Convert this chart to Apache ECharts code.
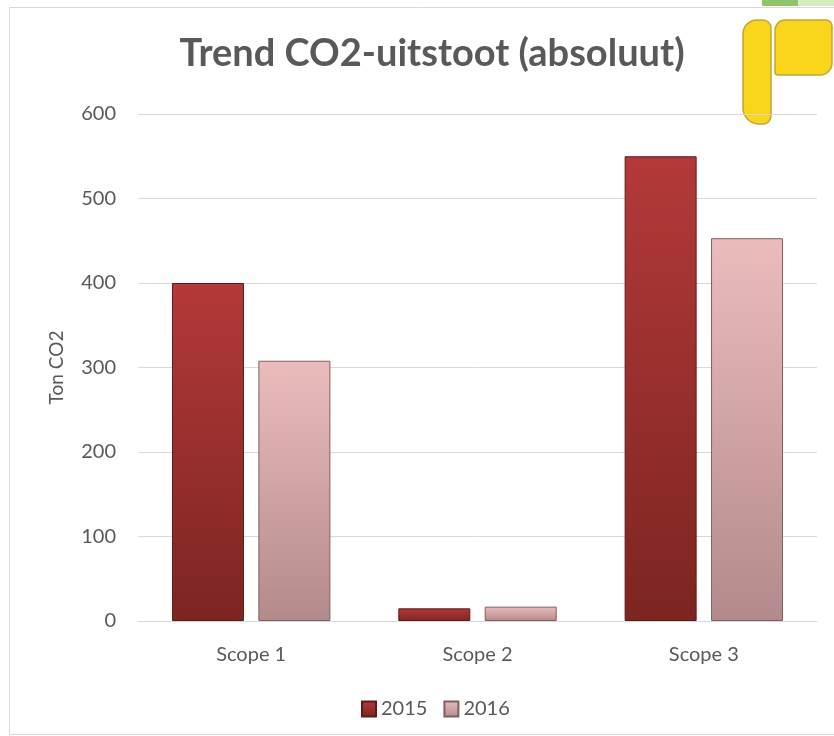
<!DOCTYPE html>
<html>
<head>
<meta charset="utf-8">
<script src="https://cdn.jsdelivr.net/npm/echarts@6/dist/echarts.min.js"></script>
<style>
  html, body { margin: 0; padding: 0; background: #fff; }
  #chart { width: 834px; height: 736px; }
</style>
</head>
<body>
<div id="chart"></div>
<script>
// data
const categories = ['Scope 1', 'Scope 2', 'Scope 3']
const values2015 = [400, 15, 550]
const values2016 = [308, 17, 453]
const seriesNames = ['2015', '2016']

const textColor = '#595959'
// Lato is close to Calibri in its shapes
const fontFamily = 'Lato, Open Sans, sans-serif'

function vGrad(top, bottom) {
  return new echarts.graphic.LinearGradient(0, 0, 0, 1, [
    { offset: 0, color: top },
    { offset: 1, color: bottom }
  ])
}

const chart = echarts.init(document.getElementById('chart'), null, { renderer: 'canvas' })

chart.setOption({
  backgroundColor: '#fff',
  animation: false,
  title: {
    text: 'Trend CO2-uitstoot (absoluut)',
    left: 427,
    top: 30,
    textAlign: 'center',
    textStyle: { color: textColor, fontSize: 38, fontWeight: 'bold', fontFamily }
  },
  grid: { left: 138, right: 17, top: 114, bottom: 115 },
  legend: {
    left: 356,
    top: 694,
    itemWidth: 14,
    itemHeight: 15,
    itemGap: 16,
    icon: 'rect',
    textStyle: { color: textColor, fontSize: 20, fontFamily },
    data: seriesNames
  },
  xAxis: {
    type: 'category',
    data: categories,
    axisLine: { lineStyle: { color: '#d9d9d9', width: 1 } },
    axisTick: { show: false },
    axisLabel: { color: textColor, fontSize: 20, fontFamily, margin: 24 }
  },
  yAxis: {
    type: 'value',
    min: 0,
    max: 600,
    interval: 100,
    name: 'Ton CO2',
    nameLocation: 'middle',
    nameGap: 72,
    nameTextStyle: { color: textColor, fontSize: 19, fontFamily },
    axisLine: { show: false },
    axisTick: { show: false },
    axisLabel: { color: textColor, fontSize: 20, fontFamily, margin: 22 },
    splitLine: { lineStyle: { color: '#d9d9d9', width: 1 } }
  },
  series: [
    {
      name: '2015',
      type: 'bar',
      data: values2015,
      barWidth: 72,
      barGap: '20%',
      itemStyle: {
        color: vGrad('#b3393a', '#7c2521'),
        borderColor: '#5e1a18',
        borderWidth: 1
      }
    },
    {
      name: '2016',
      type: 'bar',
      data: values2016,
      barWidth: 72,
      barGap: '20%',
      itemStyle: {
        color: vGrad('#ecbcbd', '#b38a8b'),
        borderColor: '#7d6162',
        borderWidth: 1
      }
    }
  ],
  graphic: [
    // outer chart frame
    {
      type: 'rect',
      shape: { x: 9.5, y: 7.5, width: 840, height: 727 },
      style: { fill: null, stroke: '#d9d9d9', lineWidth: 1 },
      silent: true
    },
    // logo, top right
    {
      type: 'rect',
      shape: { x: 796, y: 0, width: 38, height: 6 },
      style: { fill: '#d8ecc4' },
      silent: true
    },
    {
      type: 'rect',
      shape: { x: 762, y: 0, width: 36, height: 6 },
      style: { fill: '#8fc46a' },
      silent: true
    },
    {
      type: 'rect',
      shape: { x: 743, y: 20, width: 28, height: 104, r: [14, 8, 8, 16] },
      style: { fill: '#f9d51c', stroke: '#c4a733', lineWidth: 1.5 },
      silent: true
    },
    {
      type: 'rect',
      shape: { x: 775, y: 20, width: 57, height: 55, r: [10, 6, 12, 3] },
      style: { fill: '#f9d51c', stroke: '#c4a733', lineWidth: 1.5 },
      silent: true
    }
  ]
})
</script>
</body>
</html>
